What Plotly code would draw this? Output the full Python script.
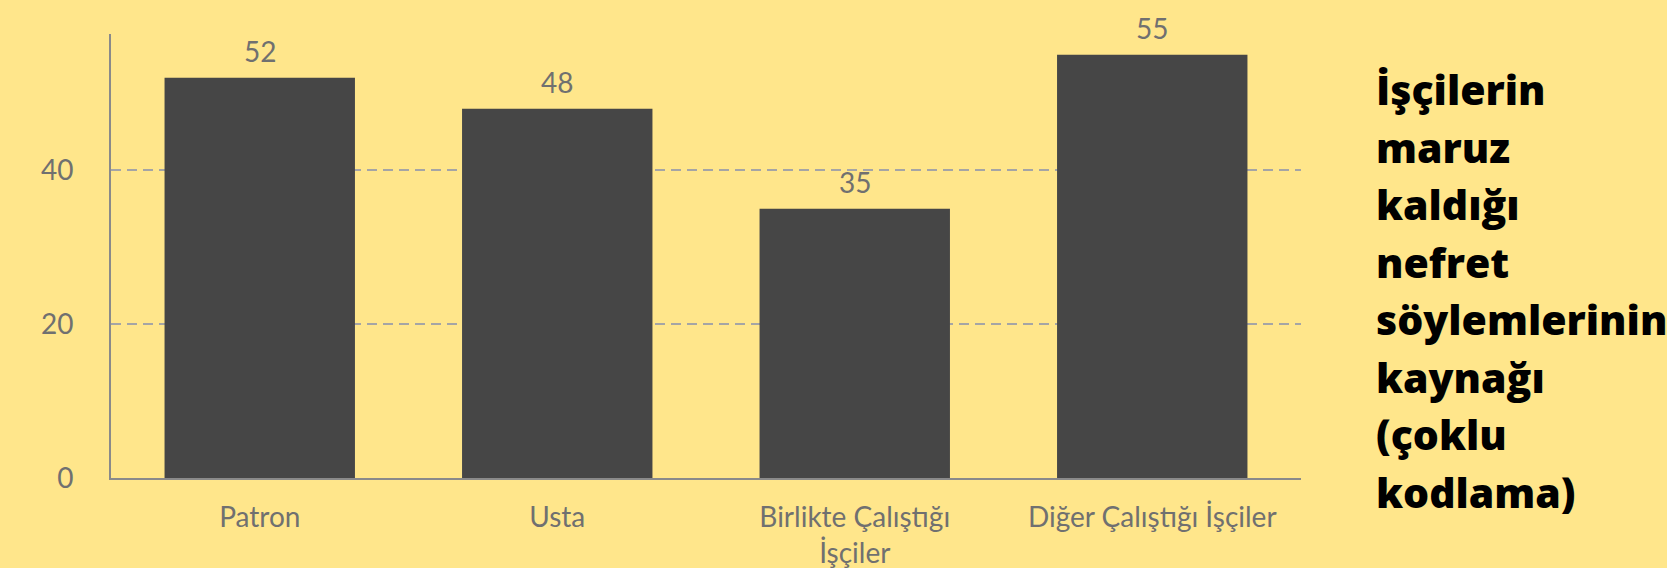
import plotly.graph_objects as go

categories = ["Patron", "Usta", "Birlikte Çalıştığı<br>İşçiler", "Diğer Çalıştığı İşçiler"]
values = [52, 48, 35, 55]
y_ticks = [0, 20, 40]
title_lines = ["İşçilerin", "maruz", "kaldığı", "nefret", "söylemlerinin", "kaynağı", "(çoklu", "kodlama)"]

BG = "#FFE68B"
BAR = "#464646"
GREY = "#707070"

W, H = 1667, 568
L, R, T, B = 111, 366, 34, 90

fig = go.Figure()
fig.add_trace(go.Bar(x=categories, y=values, marker=dict(color=BAR, line=dict(width=0)),
                     hoverinfo="skip"))

for c, v in zip(categories, values):
    fig.add_annotation(x=c, y=v, text=str(v), showarrow=False, yanchor="bottom",
                       yshift=8, font=dict(family="Lato", size=28, color=GREY))

plot_h = H - T - B
for i, line in enumerate(title_lines):
    center_px = 89 + i * 57.5  # from top
    yp = 1 - (center_px - T) / plot_h
    fig.add_annotation(xref="paper", yref="paper", x=(1374 - L) / (W - L - R), y=yp,
                       xanchor="left", yanchor="middle", text=line, showarrow=False,
                       font=dict(family="Open Sans", size=41, color="#000000", weight=800))

fig.update_layout(
    width=W, height=H, margin=dict(l=L, r=R, t=T, b=B, autoexpand=False),
    paper_bgcolor=BG, plot_bgcolor=BG, bargap=0.36, showlegend=False,
    font=dict(family="Lato", size=28, color=GREY),
)
fig.update_xaxes(showline=True, linecolor="#8a8a8a", linewidth=2, ticks="",
                 ticklabelstandoff=13, automargin=False,
                 tickfont=dict(family="Lato", size=28, color=GREY), showgrid=False)
fig.update_yaxes(range=[0, 57.7], tickvals=y_ticks, showline=True, linecolor="#8a8a8a",
                 linewidth=2, showgrid=True, gridcolor="#a5a5a5", griddash="10px,6px",
                 gridwidth=1.5, zeroline=False, ticklabelstandoff=30, automargin=False,
                 tickfont=dict(family="Lato", size=28, color=GREY))

fig.write_html("out.html", config={"displayModeBar": False},
               post_script="document.body.style.margin='0';document.body.style.background='#FFE68B';")
